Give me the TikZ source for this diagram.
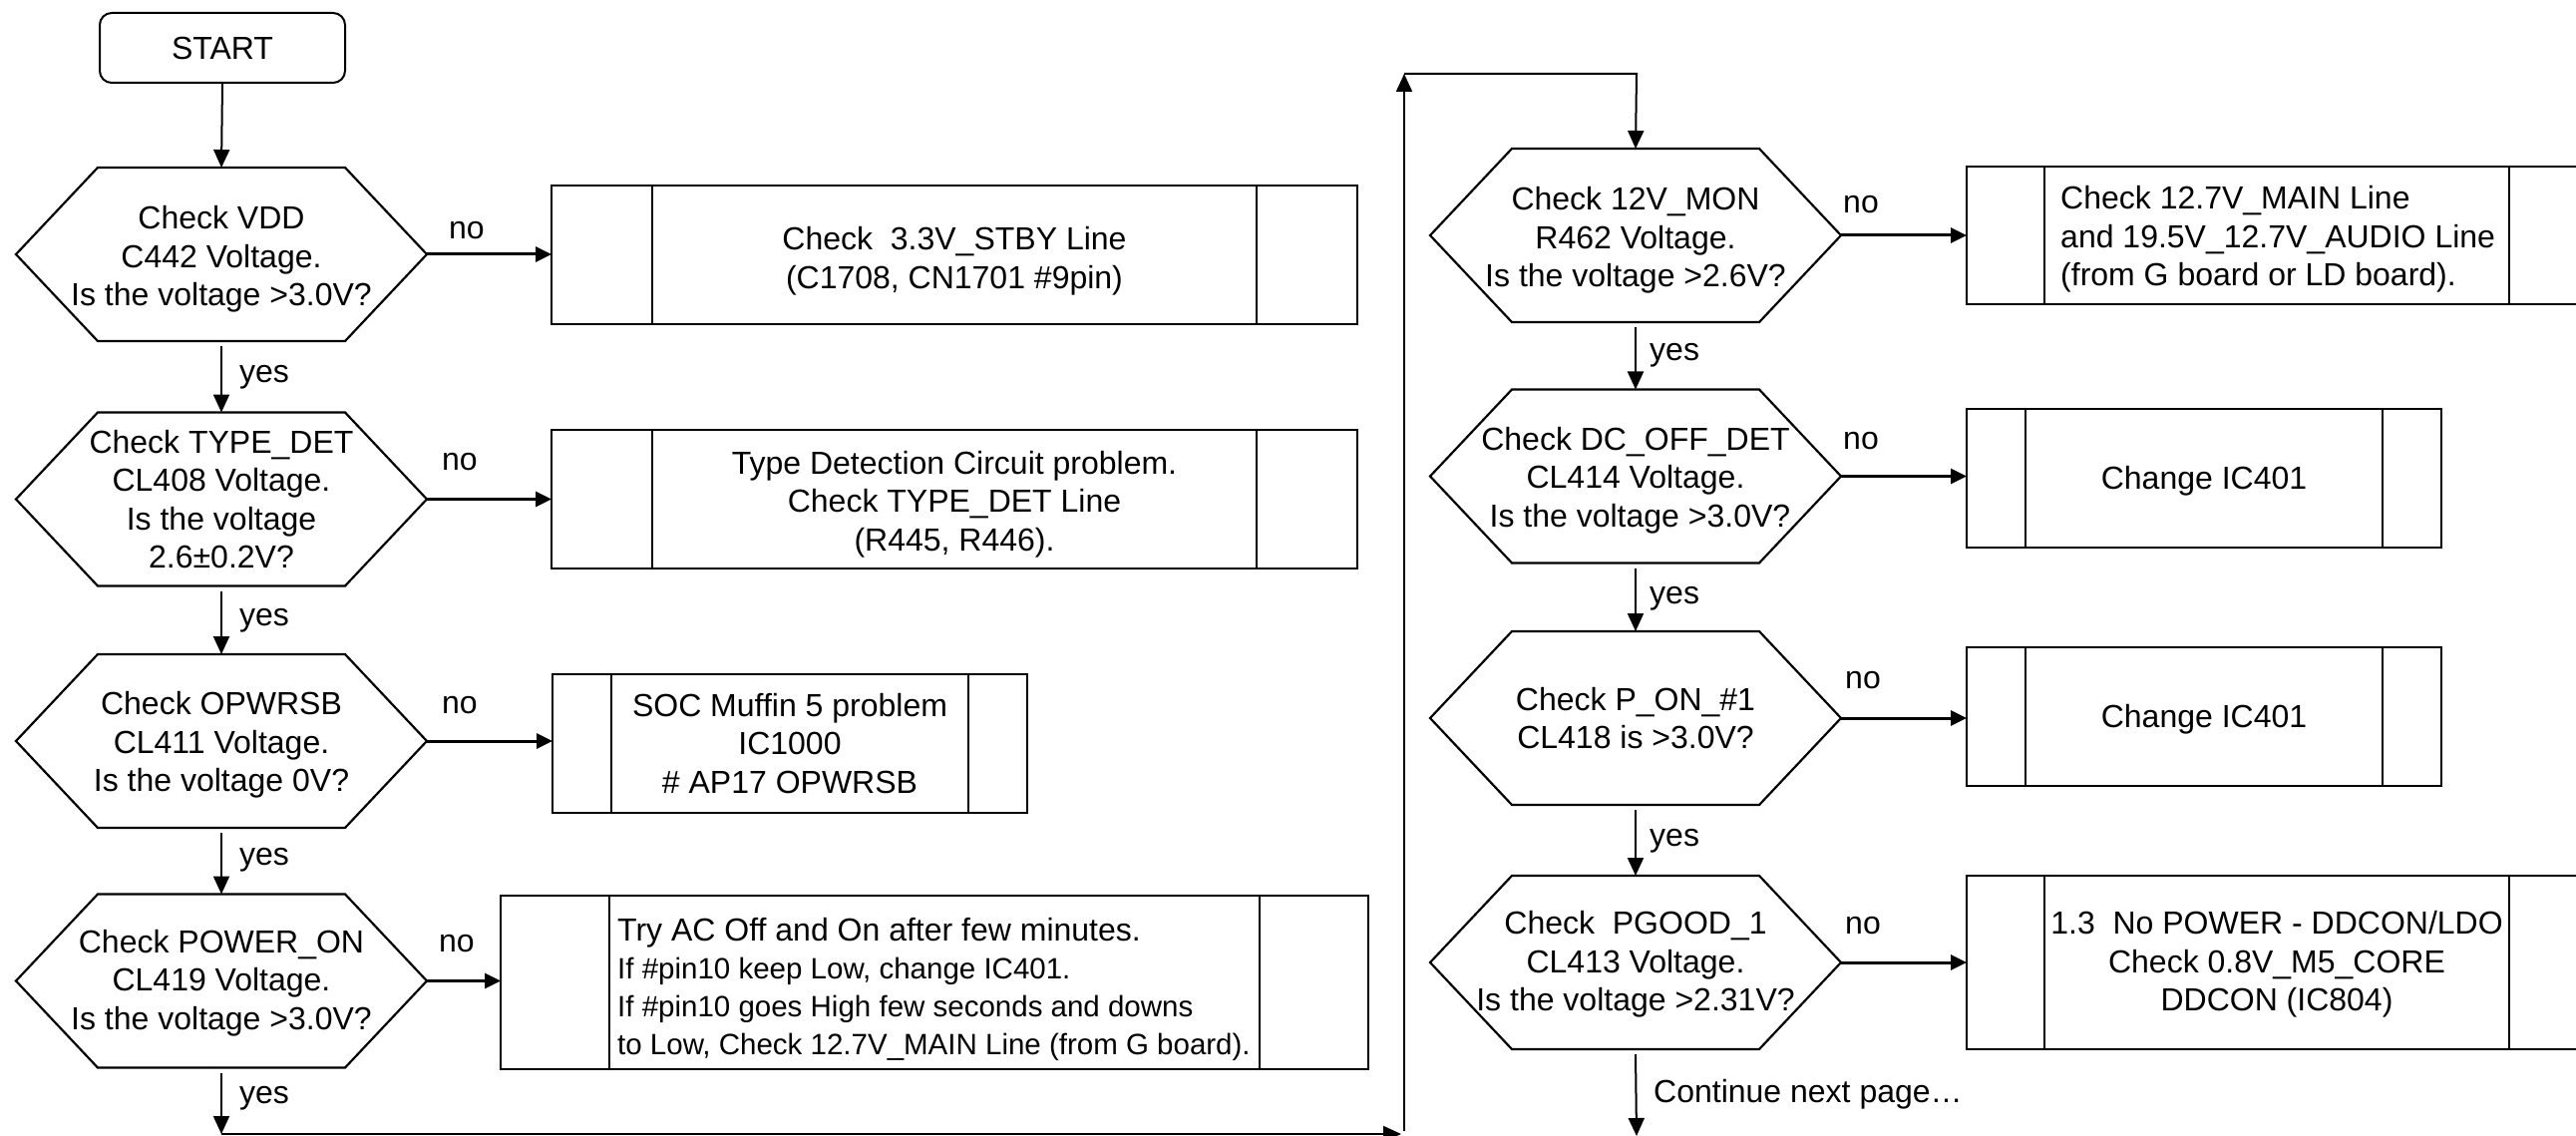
\documentclass[tikz,border=0pt]{standalone}
\usepackage{fontspec}
\setmainfont{Liberation Sans}
\usetikzlibrary{arrows.meta,calc}
% name, x, y, text dy, text
\newcommand\hexdec[5]{%
  \node[hexbox] (#1) at (#2,#3) {};
  \node[txtfont,align=center,inner sep=0pt] (#1t) at (#2,#3+#4) {#5};
  \draw[shapeline] ([xshift=82pt]#1.north west) -- ([xshift=-82pt]#1.north east) -- (#1.east)
     -- ([xshift=-82pt]#1.south east) -- ([xshift=82pt]#1.south west) -- (#1.west) -- cycle;
}
% name, cx, cy, w, h, margin, text dy, text
\newcommand\procbox[8]{%
  \node[pbox,minimum width=#4pt,minimum height=#5pt] (#1) at (#2,#3) {};
  \node[txtfont,align=center,inner sep=0pt] (#1t) at (#2,#3+#7) {#8};
  \draw[shapeline] ([xshift=#6pt]#1.north west) -- ([xshift=#6pt]#1.south west);
  \draw[shapeline] ([xshift=-#6pt]#1.north east) -- ([xshift=-#6pt]#1.south east);
}
\begin{document}
\begin{tikzpicture}[x=1pt,y=-1pt,
  txtfont/.style={font=\fontsize{32}{38.5}\selectfont},
  hexbox/.style={inner sep=0pt,outer sep=0pt,minimum width=412pt,minimum height=174pt},
  shapeline/.style={line width=2.2pt,line join=miter},
  pbox/.style={draw,line width=2.2pt,inner sep=0pt,outer sep=0pt},
  lbl/.style={txtfont,inner sep=0pt,anchor=base west},
  yesarr/.style={-{Triangle[length=18pt,width=16pt]},line width=2pt},
  noarr/.style={-{Triangle[length=16pt,width=15pt]},line width=3pt}]
\useasboundingbox (0,0) rectangle (2583,1139);

% start
\node[txtfont,draw,line width=2pt,rounded corners=12pt,minimum width=246pt,minimum height=70pt,inner sep=0pt] (start) at (223,48) {START};

% left column
\hexdec{h1}{222}{255}{5}{Check VDD\\C442 Voltage.\\Is the voltage >3.0V?}
\hexdec{h2}{222}{500.5}{0}{Check TYPE\_DET\\CL408 Voltage.\\Is the voltage\\2.6±0.2V?}
\hexdec{h3}{222}{743}{4}{Check OPWRSB\\CL411 Voltage.\\Is the voltage 0V?}
\hexdec{h4}{222}{983.5}{2}{Check POWER\_ON\\CL419 Voltage.\\Is the voltage >3.0V?}

\procbox{b1}{957}{255.5}{808}{139}{101}{6}{Check\ \ 3.3V\_STBY Line\\(C1708, CN1701 \#9pin)}
\procbox{b2}{957}{500.5}{808}{139}{101}{5}{Type Detection Circuit problem.\\Check TYPE\_DET Line\\(R445, R446).}
\procbox{b3}{792}{745.5}{476}{139}{59}{0}{SOC Muffin 5 problem\\IC1000\\\# AP17 OPWRSB}
\procbox{b4}{937}{985}{870}{174}{109}{0}{}
\node[font=\fontsize{29.5}{38.2}\selectfont,inner sep=0pt,anchor=west,align=left] (t4) at (619,992) {{\fontsize{32}{38.2}\selectfont Try AC Off and On after few minutes.}\\If \#pin10 keep Low, change IC401.\\If \#pin10 goes High few seconds and downs\\to Low, Check 12.7V\_MAIN Line (from G board).};

% right column
\hexdec{h5}{1640}{236}{5}{Check 12V\_MON\\R462 Voltage.\\Is the voltage >2.6V?}
\hexdec{h6}{1640}{477.5}{4}{Check DC\_OFF\_DET\\CL414 Voltage.\\\ Is the voltage >3.0V?}
\hexdec{h7}{1640}{720}{0}{Check P\_ON\_\#1\\CL418 is >3.0V?}
\hexdec{h8}{1640}{965}{2}{Check\ \ PGOOD\_1\\CL413 Voltage.\\Is the voltage >2.31V?}

\procbox{b5}{2283}{236}{622}{138}{78}{0}{}
\node[txtfont,inner sep=0pt,anchor=west,align=left] (t5) at (2066,240) {Check 12.7V\_MAIN Line\\and 19.5V\_12.7V\_AUDIO Line\\(from G board or LD board).};
\procbox{b6}{2210}{479.5}{476}{139}{59}{3}{Change IC401}
\procbox{b7}{2210}{718.5}{476}{139}{59}{3}{Change IC401}
\procbox{b8}{2283}{965}{622}{174}{78}{2}{1.3\ \ No POWER - DDCON/LDO\\Check 0.8V\_M5\_CORE\\DDCON (IC804)}

% connectors
\coordinate (c1) at (222,1137);
\coordinate (c2) at (1405,1137);
\coordinate (c3) at (1408,1134);
\coordinate (c4) at (1408,74);
\coordinate (c5) at (1641,74);
\coordinate (c6) at (1641,1139);

\draw[yesarr] (start.south) -- (h1.north);
\draw[yesarr] ([yshift=-5pt]h1.south) -- (h2.north);
\draw[yesarr] ([yshift=-5pt]h2.south) -- (h3.north);
\draw[yesarr] ([yshift=-5pt]h3.south) -- (h4.north);
\draw[yesarr] ([yshift=-5pt]h4.south) -- (c1);
\draw[yesarr] (c1) -- (c2);
\draw[yesarr] (c3) -- (c4);
\draw[yesarr] (c4) -- (c5) -- (h5.north);
\draw[yesarr] ([yshift=-5pt]h5.south) -- (h6.north);
\draw[yesarr] ([yshift=-5pt]h6.south) -- (h7.north);
\draw[yesarr] ([yshift=-5pt]h7.south) -- (h8.north);
\draw[yesarr] ([yshift=-5pt]h8.south) -- (c6);

\draw[noarr] (h1.east) -- (b1.west |- h1.east);
\draw[noarr] (h2.east) -- (b2.west |- h2.east);
\draw[noarr] (h3.east) -- (b3.west |- h3.east);
\draw[noarr] (h4.east) -- (b4.west |- h4.east);
\draw[noarr] (h5.east) -- (b5.west |- h5.east);
\draw[noarr] (h6.east) -- (b6.west |- h6.east);
\draw[noarr] (h7.east) -- (b7.west |- h7.east);
\draw[noarr] (h8.east) -- (b8.west |- h8.east);

% labels
\node[lbl] (n1) at (450,240) {no};
\node[lbl] (n2) at (443,471) {no};
\node[lbl] (n3) at (443,715) {no};
\node[lbl] (n4) at (440,954) {no};
\node[lbl] (y1) at (240,384) {yes};
\node[lbl] (y2) at (240,627) {yes};
\node[lbl] (y3) at (240,867) {yes};
\node[lbl] (y4) at (240,1106) {yes};
\node[lbl] (n5) at (1848,214) {no};
\node[lbl] (n6) at (1848,450) {no};
\node[lbl] (n7) at (1850,690) {no};
\node[lbl] (n8) at (1850,936) {no};
\node[lbl] (y5) at (1654,362) {yes};
\node[lbl] (y6) at (1654,605) {yes};
\node[lbl] (y7) at (1654,848) {yes};
\node[lbl] (cont) at (1658,1105) {Continue next page…};
\end{tikzpicture}
\end{document}
